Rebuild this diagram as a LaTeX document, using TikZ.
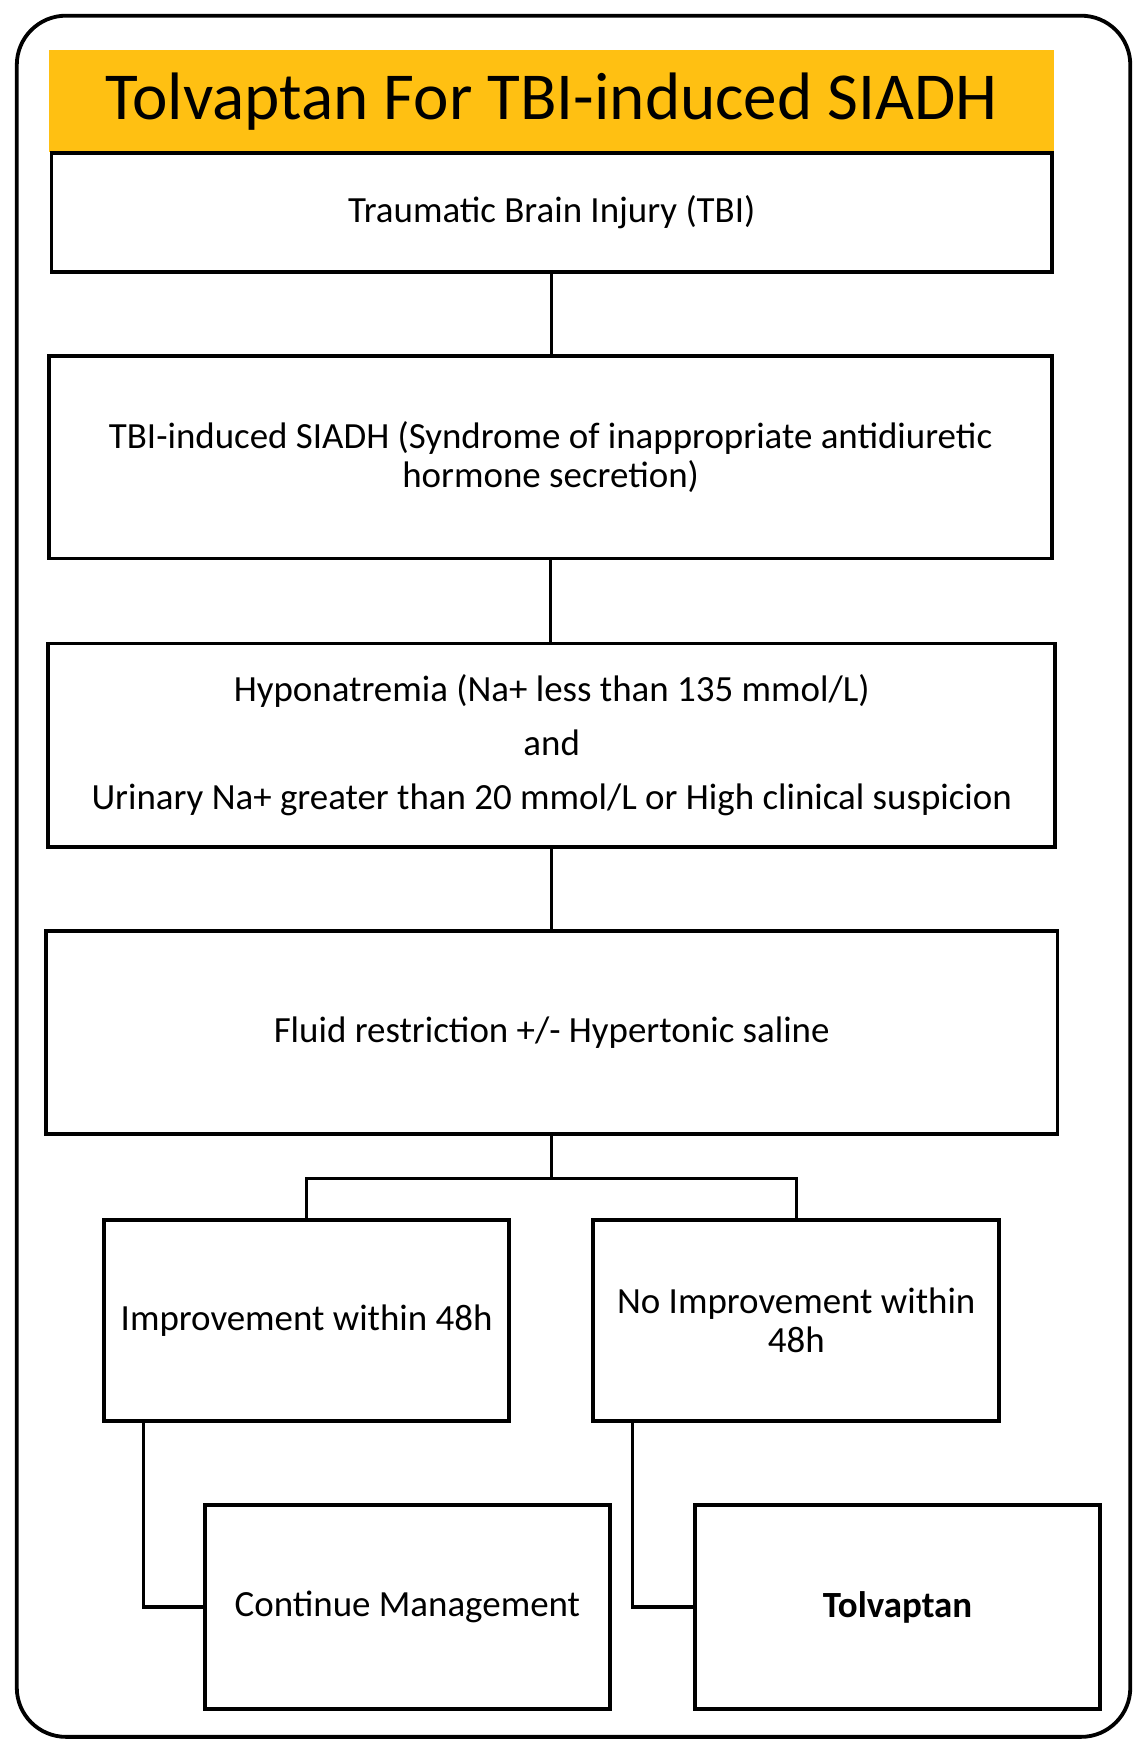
\documentclass[tikz,border=0pt]{standalone}
\usepackage{fontspec}
\setmainfont{Carlito}
\definecolor{gold}{RGB}{255,192,18}
\begin{document}
\begin{tikzpicture}[x=0.5pt,y=-0.5pt,
  box/.style={draw=black,line width=1.7pt,rectangle,align=center,inner sep=0pt,
    font=\fontsize{16.5}{17.5}\selectfont,text=black},
  conn/.style={draw=black,line width=1.4pt},
  frame/.style={draw=black,line width=1.7pt,rounded corners=22pt},
]
\useasboundingbox (0,0) rectangle (1024,1570);
\draw[frame] (15,14) rectangle (1010,1552);
\node[fill=gold,inner sep=0pt,minimum width=449pt,minimum height=45.5pt,
  font=\fontsize{30}{32}\selectfont] (title) at (493,90.5) {\raisebox{-1.5pt}{Tolvaptan For TBI-induced SIADH}};
\node[box,minimum width=447pt,minimum height=53pt] (b1) at (493,190) {Traumatic Brain Injury (TBI)};
\node[box,minimum width=448pt,minimum height=90.5pt] (b2) at (492,408.5)
  {TBI-induced SIADH (Syndrome of inappropriate antidiuretic\\hormone secretion)};
\node[box,minimum width=450pt,minimum height=91pt] (b3) at (493,666)
  {Hyponatremia (Na+ less than 135 mmol/L)\\[6.5pt]and\\[6.5pt]Urinary Na+ greater than 20 mmol/L or High clinical suspicion};
\node[box,minimum width=452pt,minimum height=90.5pt] (b4) at (493,922.5) {Fluid restriction +/- Hypertonic saline};
\node[box,minimum width=181pt,minimum height=90pt] (b5) at (274,1180) {Improvement within 48h};
\node[box,minimum width=181.5pt,minimum height=90pt] (b6) at (711.5,1180) {No Improvement within\\48h};
\node[box,minimum width=181pt,minimum height=91pt] (b7) at (364,1436) {Continue Management};
\node[box,minimum width=181pt,minimum height=91pt] (b8) at (802,1436) {\bfseries Tolvaptan};
\draw[conn] (b1.south) -- (b1.south |- b2.north);
\draw[conn] (b2.south) -- (b2.south |- b3.north);
\draw[conn] (b3.south) -- (b3.south |- b4.north);
\coordinate (split) at ([yshift=-19pt]b4.south);
\draw[conn] (b4.south) -- (split);
\draw[conn] (split) -| (b5.north);
\draw[conn] (split) -| (b6.north);
\draw[conn] ([xshift=18.5pt]b5.south west) |- (b7.west);
\draw[conn] ([xshift=18.5pt]b6.south west) |- (b8.west);
\end{tikzpicture}
\end{document}
